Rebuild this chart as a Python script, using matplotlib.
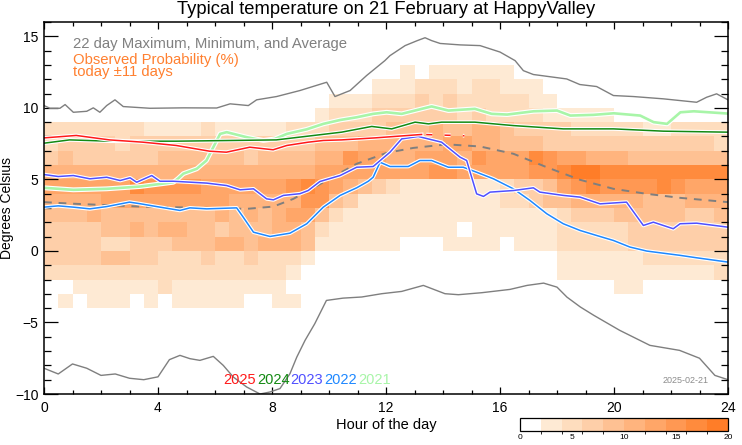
import numpy as np
import matplotlib
matplotlib.use('Agg')
import matplotlib.pyplot as plt
from matplotlib.colors import ListedColormap, BoundaryNorm
import matplotlib.patheffects as pe

plt.rcParams['font.family'] = ['Liberation Sans', 'DejaVu Sans']

# observed probability, one digit per 2% bin (0 = under 2%)
# rows are 1 C bands from 12..13 down to -4..-3, 48 half-hour columns each
prob_rows = [
    "000000000000000000000000010111111000000000000000",
    "000000000000000000000001112221221110000000000000",
    "000000000000000000001112223232222211000000000000",
    "000000000000000000012223333332322221111100000000",
    "222222211112111112223333444544554333322222112222",
    "233332333333333333344455555566554443333333333332",
    "343333334444443444455766556665766687665554444444",
    "555555555555555555566666666776666677899888888888",
    "666666877776666667876543211111112334678777787666",
    "555566666666655555774311111111112234455555444555",
    "444544444444545456642111111111111111233344444334",
    "333344545544344455421111111110111111222223333333",
    "333322333444554555411111100011110111222223333333",
    "333344332223223222100000000000000000111111222222",
    "222222222222222221000000000000000000111111111112",
    "001111112111111110000000000000000000000011000000",
    "010111010111110011000000000000000000000000000000",
]
top_row = 12

# 22 day maximum / minimum / average
max_hours = [0, 0.21, 0.56, 0.74, 1.03, 1.5, 1.73, 1.96, 2.2, 2.49, 2.78, 3.72, 4.89, 6.06, 6.53, 7.17,
             7.46, 8.16, 8.98, 9.92, 10.21, 10.74, 11.32, 11.96, 12.14, 12.67, 13.1, 13.37, 13.6, 13.9,
             14.6, 15.3, 16.0, 16.53, 16.82, 17.17, 18.34, 18.8, 19.39, 19.98, 20.68, 21.73, 22.9, 23.25,
             23.6, 24.0]
max_temps = [10.16, 9.97, 9.97, 10.23, 9.69, 9.76, 10.0, 9.69, 10.16, 10.56, 10.09, 9.97, 10.0, 9.99,
             10.28, 10.16, 10.56, 10.79, 11.21, 11.79, 10.79, 11.21, 12.26, 13.3, 13.65, 14.35, 14.7,
             14.9, 14.7, 14.5, 14.4, 14.35, 13.9, 13.3, 12.6, 12.33, 12.02, 11.63, 11.49, 10.86, 10.79,
             10.63, 10.39, 10.74, 10.98, 10.56]
min_hours = [0, 0.5, 1.0, 1.5, 2.0, 2.5, 3.0, 3.5, 4.0, 4.4, 4.77, 5.12, 5.47, 5.94, 6.29, 6.64, 7.11,
             7.58, 7.93, 8.28, 8.63, 8.87, 9.16, 9.5, 9.91, 10.49, 11.15, 11.85, 12.55, 13.31, 14.07,
             14.54, 15.36, 16.35, 16.95, 17.53, 18.0, 18.35, 18.82, 19.29, 20.2, 21.26, 22.3, 23.0,
             23.54, 24.0]
min_temps = [-8.2, -8.6, -7.9, -8.2, -8.7, -8.6, -8.9, -9.0, -8.8, -7.6, -7.3, -7.53, -7.65, -7.37,
             -8.0, -8.81, -9.51, -10.0, -9.86, -9.62, -8.58, -7.42, -6.25, -5.09, -3.46, -3.3, -3.22,
             -2.99, -2.83, -2.41, -2.99, -3.06, -2.92, -2.69, -2.41, -2.25, -2.53, -3.23, -3.92, -4.5,
             -5.55, -6.6, -6.95, -7.5, -8.7, -9.0]
avg_hours = [0, 1.03, 3.37, 5.71, 7.11, 8.05, 8.75, 9.8, 10.97, 12.02, 12.96, 14.13, 15.3, 16.47,
             17.64, 18.81, 19.98, 21.15, 22.32, 24.0]
avg_temps = [3.41, 3.3, 3.1, 3.01, 2.94, 3.1, 3.64, 4.8, 6.09, 6.85, 7.2, 7.45, 7.3, 6.79, 5.85, 4.97,
             4.34, 3.99, 3.71, 3.41]

# individual years
h2025 = [0, 1.13, 2.3, 3.47, 4.64, 5.81, 6.4, 7.22, 8.04, 8.52, 9.27, 9.8, 10.44, 11.61, 12.78, 13.25]
t2025 = [7.9, 8.07, 7.76, 7.6, 7.37, 6.97, 6.9, 7.25, 7.07, 7.37, 7.6, 7.72, 7.76, 7.9, 8.07, 8.14]
h2025_rest = [13.25, 14.75]
t2025_rest = [8.14, 8.05]

h2024 = [0, 0.9, 2.3, 4.64, 8.15, 10.44, 11.5, 12.2, 13.02, 13.49, 13.95, 15.12, 16.47, 18.22, 19.98,
         21.73, 24.0]
t2024 = [7.53, 7.76, 7.67, 7.67, 7.76, 8.3, 8.7, 8.53, 9.0, 8.88, 9.0, 9.0, 8.76, 8.53, 8.53, 8.37, 8.3]

h2023 = [0, 0.5, 1.03, 1.61, 2.2, 2.67, 3.02, 3.25, 3.78, 4.07, 4.54, 5.71, 6.41, 6.88, 7.35, 7.81,
         8.05, 8.4, 8.98, 9.27, 9.68, 10.39, 10.97, 11.55, 12.14, 12.55, 13.13, 13.95, 14.6, 14.83,
         15.18, 15.42, 15.65, 16.47, 17.17, 17.4, 18.22, 18.81, 19.51, 20.44, 21.03, 21.38, 22.08,
         22.32, 22.9, 24.0]
t2023 = [5.34, 5.2, 5.27, 5.04, 5.15, 4.92, 5.11, 4.8, 5.27, 4.87, 4.87, 4.74, 4.57, 4.27, 4.34, 3.64,
         3.57, 3.88, 4.0, 4.22, 4.85, 5.27, 5.85, 5.9, 6.9, 7.83, 8.0, 7.6, 6.55, 6.32, 3.99, 3.81,
         4.11, 4.22, 4.41, 4.11, 3.88, 3.76, 3.29, 3.41, 1.78, 2.01, 1.55, 1.9, 1.94, 1.66]

h2022 = [0, 0.5, 1.03, 1.61, 2.2, 3.0, 3.37, 3.95, 4.77, 5.12, 5.71, 6.76, 6.99, 7.35, 7.93, 8.63,
         9.22, 9.8, 10.39, 10.97, 11.38, 11.55, 11.79, 12.14, 12.78, 13.19, 13.6, 14.19, 14.71, 15.18,
         15.77, 16.47, 17.05, 17.64, 18.22, 18.81, 19.39, 19.98, 20.56, 21.15, 22.32, 22.9, 24.0]
t2022 = [3.06, 3.15, 3.06, 2.94, 3.1, 3.41, 3.3, 3.1, 2.83, 3.01, 2.94, 3.01, 2.36, 1.31, 1.01, 1.24,
         1.9, 3.06, 3.88, 4.41, 4.87, 5.15, 6.2, 5.9, 5.9, 6.32, 6.32, 5.85, 5.85, 5.5, 5.04, 4.34,
         3.53, 2.6, 1.9, 1.43, 1.08, 0.73, 0.27, -0.01, -0.31, -0.48, -0.78]

h2021 = [0, 1.03, 2.2, 3.37, 4.54, 4.7, 4.89, 5.36, 5.7, 5.94, 6.18, 6.41, 7.11, 7.7, 8.1, 8.52, 9.22,
         9.8, 10.39, 10.97, 11.55, 12.02, 12.55, 13.6, 14.19, 15.12, 15.71, 16.25, 17.18, 18.0, 18.47,
         19.28, 19.99, 20.92, 21.39, 21.86, 22.33, 22.8, 24.0]
t2021 = [4.41, 4.27, 4.34, 4.5, 4.8, 5.05, 5.4, 5.74, 6.32, 7.25, 8.18, 8.3, 7.95, 7.72, 7.83, 8.18,
         8.5, 8.88, 9.15, 9.34, 9.58, 9.69, 9.58, 10.1, 9.81, 9.93, 9.58, 9.53, 9.76, 9.81, 9.46, 9.51,
         9.62, 9.46, 9.0, 8.88, 9.69, 9.76, 9.6]

years = ['2025', '2024', '2023', '2022', '2021']
year_colors = ['#FF1A1A', '#138A13', '#5050FF', '#1E88FF', '#A8F5A8']

bin_colors = ['#FFFFFF', '#FEEAD4', '#FEDDBE', '#FECFA9', '#FEC193', '#FFB47E',
              '#FFA668', '#FF9853', '#FF8B3D', '#FF7D28']

levels = np.array([[int(c) for c in r] for r in prob_rows])[::-1]
prob = levels * 2 + 1
hour_edges = np.arange(0, 24.01, 0.5)
temp_edges = np.arange(top_row - len(prob_rows) + 1, top_row + 2)

fig = plt.figure(figsize=(7.42, 4.45), dpi=100)
ax = fig.add_axes([44 / 742, 1 - 394 / 445, 684 / 742, 372 / 445])

cmap = ListedColormap(bin_colors)
norm = BoundaryNorm(np.arange(0, 21, 2), cmap.N)
mesh = ax.pcolormesh(hour_edges, temp_edges, prob, cmap=cmap, norm=norm, zorder=1)

ax.plot(max_hours, max_temps, color='#7F7F7F', lw=1.0, zorder=3)
ax.plot(min_hours, min_temps, color='#7F7F7F', lw=1.0, zorder=3)
ax.plot(avg_hours, avg_temps, color='#7F7F7F', lw=1.4, dashes=(4, 3.5), zorder=3)

halo = lambda w: [pe.Stroke(linewidth=w + 1.6, foreground='white'), pe.Normal()]
ax.plot(h2021, t2021, color=year_colors[4], lw=1.9, zorder=4, path_effects=halo(1.9))
ax.plot(h2022, t2022, color=year_colors[3], lw=1.1, zorder=5, path_effects=halo(1.1))
ax.plot(h2023, t2023, color=year_colors[2], lw=1.1, zorder=5, path_effects=halo(1.1))
ax.plot(h2024, t2024, color=year_colors[1], lw=1.1, zorder=5, path_effects=halo(1.1))
ax.plot(h2025, t2025, color=year_colors[0], lw=1.1, zorder=6, path_effects=halo(1.1))
ax.plot(h2025_rest, t2025_rest, color=year_colors[0], lw=1.1, dashes=(0, 3, 4, 5), zorder=6,
        path_effects=halo(1.1))

ax.set_xlim(0, 24)
ax.set_ylim(-10, 16)
ax.set_xticks(range(0, 25, 4))
ax.set_xticks(range(0, 25), minor=True)
ax.set_yticks(range(-10, 16, 5))
ax.set_yticks(range(-10, 17), minor=True)
ax.tick_params(which='both', direction='in', top=True, right=True, labelsize=10, width=0.9)
ax.tick_params(axis='x', which='major', length=5.3, pad=5)
ax.tick_params(axis='x', which='minor', length=2.7)
ax.tick_params(axis='y', which='major', length=9.9, pad=4)
ax.tick_params(axis='y', which='minor', length=4.9)
for s in ax.spines.values():
    s.set_linewidth(1.1)
    s.set_zorder(10)

fig.text(0.52, 1 - 14 / 445, 'Typical temperature on 21 February at HappyValley', ha='center',
         va='baseline', fontsize=13.2)
fig.text(0.52, 0.045, 'Hour of the day', ha='center', va='center', fontsize=10.5)
fig.text(7.5 / 742, 0.532, 'Degrees Celsius', ha='center', va='center', rotation=90, fontsize=10)

ax.text(0.0424, 0.929, '22 day Maximum, Minimum, and Average', transform=ax.transAxes,
        color='#808080', fontsize=10.7, va='baseline', zorder=12)
ax.text(0.0424, 0.855, 'Observed Probability (%)\ntoday \u00b111 days', transform=ax.transAxes,
        color='#FF8030', fontsize=10.7, va='baseline', linespacing=0.8, zorder=12)
ax.text(0.972, 0.035, '2025-02-21', transform=ax.transAxes, color='#8C8C8C', fontsize=6.5,
        ha='right', va='center', zorder=12)

prev = ax.text(0.262, 0.026, years[0], transform=ax.transAxes, color=year_colors[0],
               fontsize=10.5, va='baseline', zorder=12)
for yr, c in zip(years[1:], year_colors[1:]):
    prev = ax.annotate(yr, xy=(1, 0), xycoords=prev, xytext=(0.8, 0), textcoords='offset points',
                       color=c, fontsize=10.5, va='bottom', zorder=12)

cax = fig.add_axes([520 / 742, 1 - 431 / 445, 208 / 742, 13 / 445])
cb = fig.colorbar(mesh, cax=cax, orientation='horizontal', ticks=[0, 5, 10, 15, 20])
cb.ax.tick_params(labelsize=6, length=0, pad=2)
cb.outline.set_linewidth(0.9)

fig.savefig('out.png', dpi=100)
